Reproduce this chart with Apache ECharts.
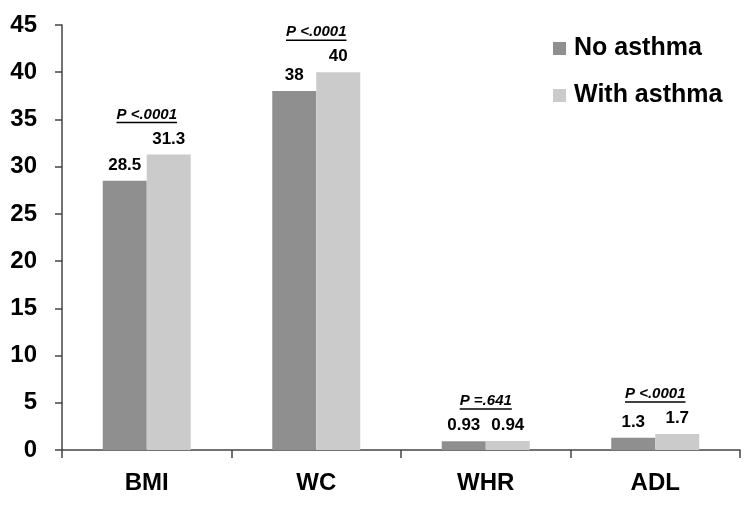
<!DOCTYPE html>
<html><head><meta charset="utf-8">
<script src="https://cdn.jsdelivr.net/npm/echarts@6/dist/echarts.min.js"></script>
<style>html,body{margin:0;padding:0;background:#fff}#c{width:750px;height:505px}</style>
</head><body><div id="c"></div>
<script>
var categories = ['BMI', 'WC', 'WHR', 'ADL'];
var noAsthma = [28.5, 38, 0.93, 1.3];
var withAsthma = [31.3, 40, 0.94, 1.7];
var dataLabels1 = ['28.5', '38', '0.93', '1.3'];
var dataLabels2 = ['31.3', '40', '0.94', '1.7'];
var pLabels = ['P <.0001', 'P <.0001', 'P =.641', 'P <.0001'];
var seriesNames = ['No asthma', 'With asthma'];

var FONT = '"Liberation Sans", Arial, sans-serif';
var pFont = 'italic bold 15px ' + FONT;
var mctx = document.createElement('canvas').getContext('2d');
mctx.font = pFont;

var chart = echarts.init(document.getElementById('c'));
var pData = categories.map(function (c, i) {
  return [i, Math.max(noAsthma[i], withAsthma[i])];
});
chart.setOption({
  animation: false,
  backgroundColor: '#fff',
  grid: { left: 62, right: 10, top: 25, bottom: 55, containLabel: false },
  legend: {
    data: seriesNames,
    orient: 'vertical',
    left: 548, top: 31,
    itemWidth: 13, itemHeight: 13, itemGap: 22,
    icon: 'rect',
    textStyle: { fontFamily: FONT, fontWeight: 'bold', fontSize: 25, color: '#000', padding: [0, 0, 0, 3] }
  },
  xAxis: {
    type: 'category',
    data: categories,
    axisLine: { lineStyle: { color: '#444', width: 1.5 } },
    axisTick: { show: true, length: 8, lineStyle: { color: '#444', width: 1.5 } },
    axisLabel: { fontFamily: FONT, fontWeight: 'bold', fontSize: 24, color: '#000', margin: 21 }
  },
  yAxis: {
    type: 'value', min: 0, max: 45, interval: 5,
    axisLine: { show: true, lineStyle: { color: '#444', width: 1.5 } },
    axisTick: { show: true, length: 7, lineStyle: { color: '#444', width: 1.5 } },
    splitLine: { show: false },
    axisLabel: { fontFamily: FONT, fontWeight: 'bold', fontSize: 24, color: '#000', margin: 25 }
  },
  series: [
    {
      name: seriesNames[0], type: 'bar', data: noAsthma, barWidth: 44, barGap: '0%',
      itemStyle: { color: '#8f8f8f' },
      label: { show: true, position: 'top', distance: 7, fontFamily: FONT, fontWeight: 'bold', fontSize: 17, color: '#000',
        formatter: function (p) { return dataLabels1[p.dataIndex]; } }
    },
    {
      name: seriesNames[1], type: 'bar', data: withAsthma, barWidth: 44, barGap: '0%',
      itemStyle: { color: '#cbcbcb' },
      label: { show: true, position: 'top', distance: 7, fontFamily: FONT, fontWeight: 'bold', fontSize: 17, color: '#000',
        formatter: function (p) { return dataLabels2[p.dataIndex]; } }
    },
    {
      type: 'custom', silent: true, data: pData,
      renderItem: function (params, api) {
        var pt = api.coord([api.value(0), api.value(1)]);
        var txt = pLabels[params.dataIndex];
        var w = mctx.measureText(txt).width;
        var y = pt[1] - 40;
        return {
          type: 'group',
          children: [
            { type: 'text', style: { text: txt, x: pt[0], y: y, align: 'center', verticalAlign: 'middle', font: pFont, fill: '#000' } },
            { type: 'line', shape: { x1: pt[0] - w / 2, y1: y + 8, x2: pt[0] + w / 2, y2: y + 8 }, style: { stroke: '#000', lineWidth: 1.5 } }
          ]
        };
      }
    }
  ]
});
</script></body></html>
